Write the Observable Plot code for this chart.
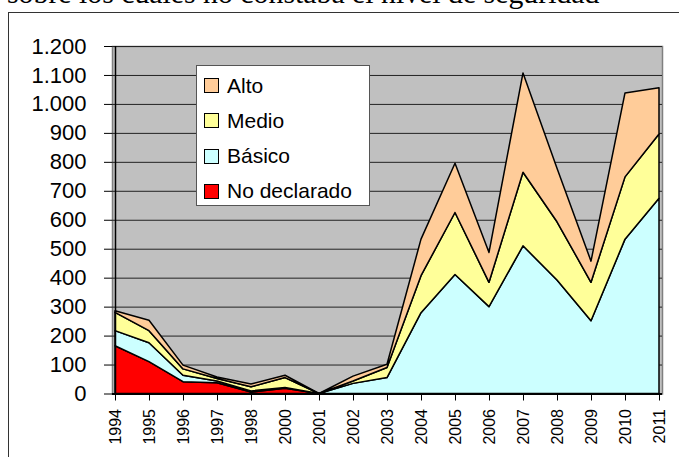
<!DOCTYPE html>
<html>
<head>
<meta charset="utf-8">
<script src="https://cdn.jsdelivr.net/npm/d3@7"></script>
<script src="https://cdn.jsdelivr.net/npm/@observablehq/plot@0.6"></script>
<style>
  html, body { margin: 0; padding: 0; background: #fff; width: 679px; height: 457px; overflow: hidden; }
  #wrap { position: relative; width: 679px; height: 457px; overflow: hidden; }
  #title { position: absolute; left: 7px; top: -22px; font-family: "Liberation Serif", "Times New Roman", serif; font-size: 29.8px; line-height: 30px; white-space: nowrap; color: #000; }
  #frame { position: absolute; left: 8px; top: 12px; width: 720px; height: 520px; border: 1.5px solid #333; box-sizing: border-box; }
  #chart { position: absolute; left: 0; top: 0; }
  #legend { position: absolute; left: 196px; top: 65px; width: 174px; height: 141px; background: #fff; border: 1px solid #555; box-sizing: border-box; font-family: "Liberation Sans", Arial, sans-serif; font-size: 21px; color: #000; }
  .row { position: absolute; left: 0; height: 30px; display: flex; align-items: center; }
  .sw { width: 13px; height: 13px; border: 1px solid #000; margin-left: 7px; margin-right: 8px; }
</style>
</head>
<body>
<div id="wrap">
  <div id="title">sobre los cuales no constaba el nivel de seguridad</div>
  <div id="frame"></div>
  <div id="chart"></div>
  <div id="legend"></div>
</div>
<script>
const years = ["1994","1995","1996","1997","1998","2000","2001","2002","2003","2004","2005","2006","2007","2008","2009","2010","2011"];
const noDeclarado = [165,110,41,37,5,18,0,0,0,0,0,0,0,0,0,0,0];
const basico      = [52,65,22,6,4,3,0,35,55,279,411,300,510,392,251,533,674];
const medio       = [63,42,22,9,14,34,0,8,35,128,214,84,254,201,133,215,222];
const alto        = [6,36,13,5,10,8,0,17,11,126,170,103,343,185,73,290,160];
const seriesNames = ["No declarado","Básico","Medio","Alto"];
const seriesColors = ["#ff0000","#ccffff","#ffff99","#ffcc99"];
const yTicks = [0,100,200,300,400,500,600,700,800,900,1000,1100,1200];

const seriesValues = [noDeclarado, basico, medio, alto];
const data = [];
seriesNames.forEach((s, i) => {
  years.forEach((y, j) => data.push({year: y, series: s, value: seriesValues[i][j]}));
});

const fmt = d3.formatLocale({decimal: ",", thousands: ".", grouping: [3], currency: ["", "€"]}).format(",");

const chart = Plot.plot({
  width: 679,
  height: 457,
  marginLeft: 112,
  marginRight: 17,
  marginTop: 46,
  marginBottom: 63.5,
  style: {background: "transparent", fontFamily: "'Liberation Sans', Arial, sans-serif", color: "#000"},
  x: {type: "point", domain: years, padding: 0},
  y: {domain: [0, 1200]},
  color: {domain: seriesNames, range: seriesColors},
  marks: [
    Plot.frame({fill: "#c0c0c0", stroke: "#808080", strokeWidth: 1.5}),
    Plot.ruleY(yTicks.slice(1), {stroke: "#222", strokeWidth: 1}),
    Plot.areaY(data, {x: "year", y: "value", fill: "series", stroke: "#000", strokeWidth: 1.5, strokeLinejoin: "round"}),
    Plot.ruleX([years[0]], {stroke: "#000", strokeWidth: 1.5}),
    Plot.ruleY([0], {stroke: "#000", strokeWidth: 2}),
    Plot.axisY({ticks: yTicks, tickSize: 8, tickPadding: 18, fontSize: 22, tickFormat: fmt, label: null}),
    Plot.axisX({tickRotate: -90, tickSize: 7, tickPadding: 8, fontSize: 16, label: null})
  ]
});
document.getElementById("chart").appendChild(chart);

const legend = document.getElementById("legend");
const legendOrder = [3, 2, 1, 0];
const rowCenters = [19.5, 54.5, 90, 125];
legendOrder.forEach((idx, k) => {
  const row = document.createElement("div");
  row.className = "row";
  row.style.top = (rowCenters[k] - 15) + "px";
  const sw = document.createElement("div");
  sw.className = "sw";
  sw.style.background = seriesColors[idx];
  const t = document.createElement("span");
  t.textContent = seriesNames[idx];
  row.appendChild(sw);
  row.appendChild(t);
  legend.appendChild(row);
});
</script>
</body>
</html>
